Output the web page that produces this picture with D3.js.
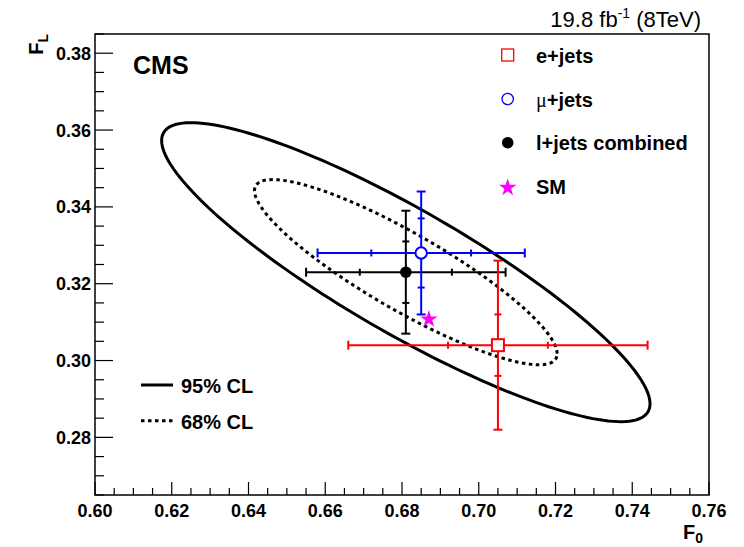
<!DOCTYPE html>
<html>
<head>
<meta charset="utf-8">
<script src="https://cdn.jsdelivr.net/npm/d3@7"></script>
<style>
  body { margin: 0; background: #fff; }
  text { font-family: "Liberation Sans", Arial, Helvetica, sans-serif; }
</style>
</head>
<body>
<div id="chart"></div>
<script>
// measurements per channel
var channels = ["e+jets", "\u03bc+jets", "l+jets combined"];
var chanColors = ["#ff0000", "#0000ff", "#000000"];
var f0 = [0.705, 0.685, 0.681];
var f0Stat = [0.013, 0.013, 0.012];
var f0Tot = [0.039, 0.027, 0.026];
var fl = [0.304, 0.328, 0.323];
var flStat = [0.008, 0.009, 0.008];
var flTot = [0.022, 0.016, 0.016];

// standard model prediction
var smF0 = 0.687;
var smFL = 0.311;

// combined contours (correlation + chi2 for 2 dof)
var ellSigmaF0 = 0.026;
var ellSigmaFL = 0.0159;
var ellRho = -0.88;
var clLabels = ["95% CL", "68% CL"];
var clChi2 = [5.99, 2.30];
var clDash = [null, "3.5,3.5"];

var xMajor = [0.60, 0.62, 0.64, 0.66, 0.68, 0.70, 0.72, 0.74, 0.76];
var yMajor = [0.28, 0.30, 0.32, 0.34, 0.36, 0.38];

var W = 744, H = 547;
var fLeft = 95, fRight = 709, fTop = 34, fBottom = 495;

var svg = d3.select("#chart").append("svg")
  .attr("width", W).attr("height", H);

var x = d3.scaleLinear().domain([0.60, 0.76]).range([fLeft, fRight]);
var y = d3.scaleLinear().domain([0.265, 0.385]).range([fBottom, fTop]);

// ticks
var xMinor = d3.range(0, 33).map(function(i){ return 0.60 + i*0.005; });
var yMinor = d3.range(0, 25).map(function(i){ return 0.265 + i*0.005; });

svg.selectAll(".xt").data(xMinor).enter().append("line")
  .attr("x1", function(d){ return x(d); }).attr("x2", function(d){ return x(d); })
  .attr("y1", fBottom)
  .attr("y2", function(d, i){ return i % 4 == 0 ? fBottom - 13 : fBottom - 7; })
  .attr("stroke", "#000").attr("stroke-width", 1.2);
svg.selectAll(".yt").data(yMinor).enter().append("line")
  .attr("y1", function(d){ return y(d); }).attr("y2", function(d){ return y(d); })
  .attr("x1", fLeft)
  .attr("x2", function(d, i){ return (i + 1) % 4 == 0 ? fLeft + 18 : fLeft + 9; })
  .attr("stroke", "#000").attr("stroke-width", 1.2);

svg.selectAll(".xl").data(xMajor).enter().append("text")
  .attr("x", function(d){ return x(d); }).attr("y", 517)
  .attr("text-anchor", "middle").attr("font-size", 18).attr("font-weight", "bold")
  .text(function(d){ return d3.format(".2f")(d); });
svg.selectAll(".yl").data(yMajor).enter().append("text")
  .attr("x", 91).attr("y", function(d){ return y(d) + 6.5; })
  .attr("text-anchor", "end").attr("font-size", 18).attr("font-weight", "bold")
  .text(function(d){ return d3.format(".2f")(d); });

// frame
svg.append("rect")
  .attr("x", fLeft).attr("y", fTop)
  .attr("width", fRight - fLeft).attr("height", fBottom - fTop)
  .attr("fill", "none").attr("stroke", "#000").attr("stroke-width", 1.5);

// axis titles
var xt = svg.append("text").attr("x", 703).attr("y", 539)
  .attr("text-anchor", "end").attr("font-size", 20).attr("font-weight", "bold");
xt.append("tspan").text("F");
xt.append("tspan").attr("font-size", 14).attr("dy", 4).text("0");

var yt = svg.append("text").attr("transform", "translate(43,34) rotate(-90)")
  .attr("text-anchor", "end").attr("font-size", 20).attr("font-weight", "bold");
yt.append("tspan").text("F");
yt.append("tspan").attr("font-size", 14).attr("dy", 5).text("L");

// header + CMS
var hdr = svg.append("text").attr("x", 701).attr("y", 27)
  .attr("text-anchor", "end").attr("font-size", 22);
hdr.append("tspan").text("19.8 fb");
hdr.append("tspan").attr("font-size", 14).attr("dy", -9).text("-1");
hdr.append("tspan").attr("dy", 9).text(" (8TeV)");

svg.append("text").attr("x", 133).attr("y", 74)
  .attr("font-size", 25).attr("font-weight", "bold").text("CMS");

// contours
var line = d3.line()
  .x(function(d){ return x(d[0]); })
  .y(function(d){ return y(d[1]); })
  .curve(d3.curveLinearClosed);
var ts = d3.range(0, 360, 2).map(function(a){ return a * Math.PI / 180; });
clChi2.forEach(function(c, k) {
  var s = Math.sqrt(c);
  var pts = ts.map(function(t) {
    return [f0[2] + s*ellSigmaF0*Math.cos(t),
            fl[2] + s*ellSigmaFL*(ellRho*Math.cos(t) + Math.sqrt(1 - ellRho*ellRho)*Math.sin(t))];
  });
  svg.append("path").attr("d", line(pts))
    .attr("fill", "none").attr("stroke", "#000").attr("stroke-width", 3)
    .attr("stroke-dasharray", clDash[k]);
});

// error bars: black, blue, red
[2, 1, 0].forEach(function(i) {
  var g = svg.append("g").attr("stroke", chanColors[i]).attr("stroke-width", 2);
  var cx = x(f0[i]), cy = y(fl[i]);
  g.append("line").attr("x1", x(f0[i] - f0Tot[i])).attr("x2", x(f0[i] + f0Tot[i]))
    .attr("y1", cy).attr("y2", cy);
  g.append("line").attr("y1", y(fl[i] - flTot[i])).attr("y2", y(fl[i] + flTot[i]))
    .attr("x1", cx).attr("x2", cx);
  [-1, 1].forEach(function(sg) {
    var xe = x(f0[i] + sg*f0Tot[i]), xs = x(f0[i] + sg*f0Stat[i]);
    var ye = y(fl[i] + sg*flTot[i]), ys = y(fl[i] + sg*flStat[i]);
    g.append("line").attr("x1", xe).attr("x2", xe).attr("y1", cy - 4.5).attr("y2", cy + 4.5);
    g.append("line").attr("x1", xs).attr("x2", xs).attr("y1", cy - 3.5).attr("y2", cy + 3.5);
    g.append("line").attr("y1", ye).attr("y2", ye).attr("x1", cx - 4.5).attr("x2", cx + 4.5);
    g.append("line").attr("y1", ys).attr("y2", ys).attr("x1", cx - 3.5).attr("x2", cx + 3.5);
  });
});

function marker(g, i, px, py, sw) {
  if (i == 0) {
    g.append("rect").attr("x", px - 6).attr("y", py - 6).attr("width", 12).attr("height", 12)
      .attr("fill", "#fff").attr("stroke", chanColors[0]).attr("stroke-width", sw);
  } else if (i == 1) {
    g.append("circle").attr("cx", px).attr("cy", py).attr("r", 5.7)
      .attr("fill", "#fff").attr("stroke", chanColors[1]).attr("stroke-width", sw);
  } else {
    g.append("circle").attr("cx", px).attr("cy", py).attr("r", 5.8).attr("fill", "#000");
  }
}
var star = d3.symbol().type(d3.symbolStar).size(95);

[2, 1, 0].forEach(function(i){ marker(svg, i, x(f0[i]), y(fl[i]), 2); });
svg.append("path").attr("d", star)
  .attr("transform", "translate(" + x(smF0) + "," + (y(smFL) + 1) + ")")
  .attr("fill", "#ff00ff");

// legend top right
var legY = [55, 99, 142.7, 186.7];
channels.forEach(function(c, i) {
  marker(svg, i, 507.7, legY[i], 1.3);
  var t = svg.append("text").attr("x", 536).attr("y", legY[i] + 7.5)
    .attr("font-size", 20).attr("font-weight", "bold");
  if (i == 1) {
    t.append("tspan").attr("font-weight", "normal")
      .attr("font-family", "'Liberation Serif', 'Times New Roman', serif").text("\u03bc");
    t.append("tspan").text("+jets");
  } else {
    t.text(c);
  }
});
svg.append("path").attr("d", star)
  .attr("transform", "translate(507.7," + (legY[3] + 1) + ")")
  .attr("fill", "#ff00ff");
svg.append("text").attr("x", 536).attr("y", legY[3] + 7.5)
  .attr("font-size", 20).attr("font-weight", "bold").text("SM");

// legend bottom left
var clY = [385, 420.7];
clLabels.forEach(function(c, k) {
  svg.append("line").attr("x1", 141).attr("x2", 173).attr("y1", clY[k]).attr("y2", clY[k])
    .attr("stroke", "#000").attr("stroke-width", 3).attr("stroke-dasharray", clDash[k]);
  svg.append("text").attr("x", 181).attr("y", clY[k] + 8)
    .attr("font-size", 20).attr("font-weight", "bold").text(c);
});
</script>
</body>
</html>
